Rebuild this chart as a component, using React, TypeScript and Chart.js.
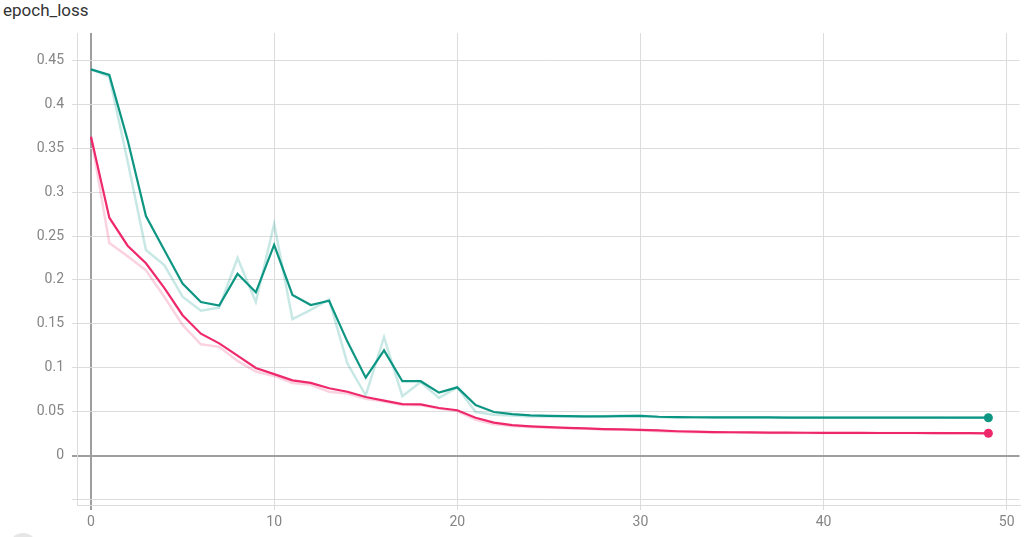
import React, { useEffect, useRef } from 'react';
import { Chart, registerables } from 'chart.js';

Chart.register(...registerables);

const epochs = Array.from({ length: 50 }, (_, i) => i);

const greenRaw = [
  0.4394, 0.431, 0.335, 0.234, 0.217, 0.181, 0.165, 0.1686, 0.225, 0.175,
  0.2636, 0.1555, 0.166, 0.178, 0.105, 0.069, 0.135, 0.068, 0.084, 0.066,
  0.078, 0.05, 0.047, 0.046, 0.045, 0.045, 0.0448, 0.0446, 0.0452, 0.046,
  0.0458, 0.044, 0.0438, 0.0437, 0.0437, 0.0437, 0.0437, 0.0437, 0.0437, 0.0437,
  0.0437, 0.0436, 0.0436, 0.0436, 0.0436, 0.0436, 0.0436, 0.0435, 0.0435, 0.0434,
];
const greenSmooth = [
  0.4394, 0.433, 0.359, 0.2727, 0.234, 0.196, 0.175, 0.171, 0.207, 0.186,
  0.24, 0.183, 0.1716, 0.1765, 0.13, 0.089, 0.12, 0.085, 0.085, 0.072,
  0.078, 0.058, 0.05, 0.0475, 0.0462, 0.0456, 0.0452, 0.045, 0.045, 0.0454,
  0.0455, 0.0446, 0.0442, 0.044, 0.0439, 0.0438, 0.0438, 0.0438, 0.0437, 0.0437,
  0.0437, 0.0437, 0.0437, 0.0437, 0.0436, 0.0436, 0.0436, 0.0436, 0.0436, 0.0435,
];
const pinkRaw = [
  0.3629, 0.242, 0.227, 0.211, 0.181, 0.149, 0.127, 0.124, 0.108, 0.096,
  0.091, 0.083, 0.081, 0.073, 0.071, 0.065, 0.062, 0.058, 0.058, 0.054,
  0.051, 0.041, 0.036, 0.034, 0.033, 0.032, 0.0315, 0.031, 0.0302, 0.0298,
  0.0292, 0.0282, 0.0273, 0.027, 0.0267, 0.0266, 0.0263, 0.0262, 0.0262, 0.0261,
  0.026, 0.026, 0.026, 0.026, 0.0261, 0.026, 0.026, 0.0259, 0.0259, 0.0258,
];
const pinkSmooth = [
  0.3629, 0.2708, 0.239, 0.219, 0.191, 0.16, 0.139, 0.128, 0.114, 0.1,
  0.093, 0.086, 0.083, 0.077, 0.073, 0.067, 0.063, 0.059, 0.0587, 0.0545,
  0.052, 0.0435, 0.038, 0.035, 0.0337, 0.0328, 0.032, 0.0313, 0.0306, 0.0302,
  0.0297, 0.029, 0.0281, 0.0276, 0.0272, 0.027, 0.0268, 0.0266, 0.0265, 0.0264,
  0.0263, 0.0262, 0.0262, 0.0261, 0.0261, 0.0261, 0.026, 0.026, 0.0259, 0.0258,
];

const xTicks = [0, 10, 20, 30, 40, 50];
const yTicks = [-0.05, 0, 0.05, 0.1, 0.15, 0.2, 0.25, 0.3, 0.35, 0.4, 0.45];

const toPoints = (vals: number[]) => vals.map((v, i) => ({ x: epochs[i], y: v }));
const lastDot = (ctx: any) => (ctx.dataIndex === epochs.length - 1 ? 4.5 : 0);

const App = () => {
  const chartRef = useRef<HTMLCanvasElement>(null);

  useEffect(() => {
    const chart = new Chart(chartRef.current!, {
      type: 'line',
      data: {
        datasets: [
          {
            data: toPoints(greenRaw),
            borderColor: 'rgba(0,150,136,0.22)',
            borderWidth: 2.5,
            pointRadius: 0,
          },
          {
            data: toPoints(pinkRaw),
            borderColor: 'rgba(233,30,99,0.2)',
            borderWidth: 2.5,
            pointRadius: 0,
          },
          {
            data: toPoints(greenSmooth),
            borderColor: '#0e9683',
            backgroundColor: '#0e9683',
            borderWidth: 2.2,
            pointRadius: lastDot,
            pointBorderWidth: 0,
          },
          {
            data: toPoints(pinkSmooth),
            borderColor: '#ee2a6c',
            backgroundColor: '#ee2a6c',
            borderWidth: 2.2,
            pointRadius: lastDot,
            pointBorderWidth: 0,
          },
        ],
      },
      options: {
        animation: false,
        responsive: false,
        layout: { padding: { top: 33, left: 0, right: 0, bottom: 0 } },
        plugins: {
          legend: { display: false },
          tooltip: { enabled: false },
        },
        scales: {
          x: {
            type: 'linear',
            min: -0.765,
            max: 50.7,
            afterBuildTicks: (axis: any) => {
              axis.ticks = xTicks.map((v) => ({ value: v }));
            },
            afterFit: (scale: any) => {
              scale.height = 32;
            },
            grid: {
              color: (ctx: any) => (ctx.tick && ctx.tick.value === 0 ? '#9e9e9e' : '#dcdcdc'),
              lineWidth: (ctx: any) => (ctx.tick && ctx.tick.value === 0 ? 2 : 1),
              tickLength: 5,
            },
            border: { color: '#dcdcdc' },
            ticks: {
              color: '#858585',
              padding: 4,
              maxRotation: 0,
              font: { family: 'Roboto', size: 14 },
            },
          },
          y: {
            min: -0.0557,
            max: 0.4807,
            afterBuildTicks: (axis: any) => {
              axis.ticks = yTicks.map((v) => ({ value: v }));
            },
            afterFit: (scale: any) => {
              scale.width = 77;
            },
            grid: {
              color: (ctx: any) => (ctx.tick && ctx.tick.value === 0 ? '#9e9e9e' : '#dcdcdc'),
              lineWidth: (ctx: any) => (ctx.tick && ctx.tick.value === 0 ? 2 : 1),
              tickLength: 5,
            },
            border: { color: '#dcdcdc' },
            ticks: {
              color: '#858585',
              padding: 8,
              font: { family: 'Roboto', size: 14 },
              callback: (v: any) => (v < 0 ? '' : String(Number(Number(v).toFixed(2)))),
            },
          },
        },
      },
    });

    return () => chart.destroy();
  }, []);

  return (
    <div style={{ position: 'absolute', left: 0, top: 0, width: 1024, height: 537, overflow: 'hidden', background: '#fff' }}>
      <div
        style={{
          position: 'absolute',
          left: 3,
          top: 0,
          fontFamily: 'Roboto',
          fontSize: 17,
          color: '#333',
          lineHeight: '20px',
        }}
      >
        epoch_loss
      </div>
      <canvas ref={chartRef} width={1024} height={537} style={{ position: 'absolute', left: 0, top: 0 }} />
      <div
        style={{
          position: 'absolute',
          left: 9,
          top: 533,
          width: 28,
          height: 28,
          borderRadius: '50%',
          background: '#e6e6e6',
        }}
      />
    </div>
  );
};

export default App;
